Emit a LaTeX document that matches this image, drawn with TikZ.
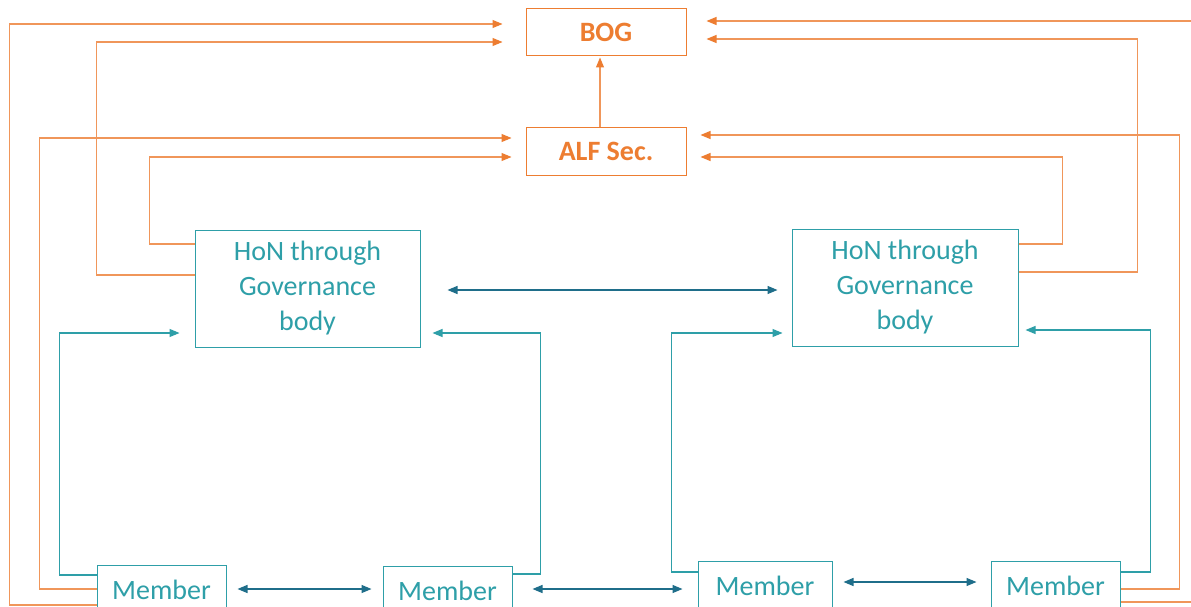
\documentclass[tikz,border=0pt]{standalone}
\usepackage{fontspec}
\setmainfont{Carlito}
\usetikzlibrary{arrows.meta}
\definecolor{org}{HTML}{ED7D31}
\definecolor{orgline}{HTML}{F0965A}
\definecolor{teal1}{HTML}{2E9FA8}
\definecolor{teal2}{HTML}{1F6E8A}
\tikzset{
  obox/.style={draw=org,line width=1pt,minimum width=160pt,minimum height=47pt,inner sep=0pt,
    text=org,font=\fontsize{28}{34}\selectfont\bfseries},
  tbox/.style={draw=teal1,line width=1pt,inner sep=0pt,text=teal1,align=center,
    font=\fontsize{28}{35}\selectfont},
  oarr/.style={draw=orgline,line width=1.1pt,-{Triangle[length=10pt,width=8pt,fill=org,color=org]}},
  tarr/.style={draw=teal1,line width=1.1pt,-{Triangle[length=10pt,width=8pt]}},
  darr/.style={draw=teal2,line width=1.3pt,{Triangle[length=10pt,width=8pt]}-{Triangle[length=10pt,width=8pt]}},
}
\begin{document}
\begin{tikzpicture}[x=1pt,y=-1pt]
\useasboundingbox (0,0) rectangle (1191,607);
\clip (0,0) rectangle (1191,607);
\fill[white] (0,0) rectangle (1191,607);
% nodes
\node[obox] (bog) at (606,32.5) {BOG};
\node[obox] (alf) at (606,151.5) {ALF Sec.};
\node[tbox,minimum width=225pt,minimum height=117pt] (honL) at (307.5,288.5) {HoN through\\Governance\\body};
\node[tbox,minimum width=226pt,minimum height=117pt] (honR) at (905,287.5) {HoN through\\Governance\\body};
\node[tbox,minimum width=129pt,minimum height=50pt] (m1) at (161.5,590) {Member};
\node[tbox,minimum width=129pt,minimum height=50pt] (m2) at (447.5,591) {Member};
\node[tbox,minimum width=134pt,minimum height=50pt] (m3) at (765,586) {Member};
\node[tbox,minimum width=129pt,minimum height=50pt] (m4) at (1055.5,586) {Member};
% orange connectors, left
\draw[oarr,shorten >=23pt] ([yshift=-15pt]m1.west) -- ++(-87,0) |- ([yshift=8.5pt]bog.west);
\draw[oarr,shorten >=23pt] ([yshift=13.5pt]honL.west) -- ++(-98,0) |- ([yshift=-9.5pt]bog.west);
\draw[oarr,shorten >=14pt] ([yshift=1pt]m1.west) -- ++(-57,0) |- ([yshift=13.5pt]alf.west);
\draw[oarr,shorten >=14pt] ([yshift=44.5pt]honL.west) -- ++(-45,0) |- ([yshift=-5.5pt]alf.west);
% orange connectors, right
\draw[oarr,shorten >=20pt] ([yshift=-16pt]m4.east) -- ++(90,0) |- ([yshift=11.5pt]bog.east);
\draw[oarr,shorten >=20pt] ([yshift=15.5pt]honR.east) -- ++(119,0) |- ([yshift=-6.5pt]bog.east);
\draw[oarr,shorten >=14pt] ([yshift=-3pt]m4.east) -- ++(59,0) |- ([yshift=16.5pt]alf.east);
\draw[oarr,shorten >=14pt] ([yshift=43.5pt]honR.east) -- ++(44,0) |- ([yshift=-5.5pt]alf.east);
% ALF to BOG
\draw[oarr,shorten >=1pt] ([xshift=-6pt]alf.north) -- ([xshift=-6pt]bog.south);
% teal connectors
\draw[tarr,shorten >=15pt] ([yshift=15pt]m1.west) -- ++(-37,0) |- ([yshift=-44.5pt]honL.west);
\draw[tarr,shorten >=12pt] ([yshift=17pt]m2.east) -- ++(28,0) |- ([yshift=-44.5pt]honL.east);
\draw[tarr,shorten >=9pt] ([yshift=14pt]m3.west) -- ++(-26,0) |- ([yshift=-45.5pt]honR.west);
\draw[tarr,shorten >=7pt] ([yshift=14pt]m4.east) -- ++(30,0) |- ([yshift=-42.5pt]honR.east);
% dark teal double arrows
\draw[darr,shorten <=27pt,shorten >=14pt] ([yshift=-1.5pt]honL.east) -- ([yshift=-2.5pt]honR.west);
\draw[darr,shorten <=11pt,shorten >=11pt] ([yshift=1pt]m1.east) -- ([yshift=2pt]m2.west);
\draw[darr,shorten <=20pt,shorten >=15pt] ([yshift=2pt]m2.east) -- ([yshift=-3pt]m3.west);
\draw[darr,shorten <=11pt,shorten >=14pt] ([yshift=4pt]m3.east) -- ([yshift=4pt]m4.west);
\end{tikzpicture}
\end{document}
